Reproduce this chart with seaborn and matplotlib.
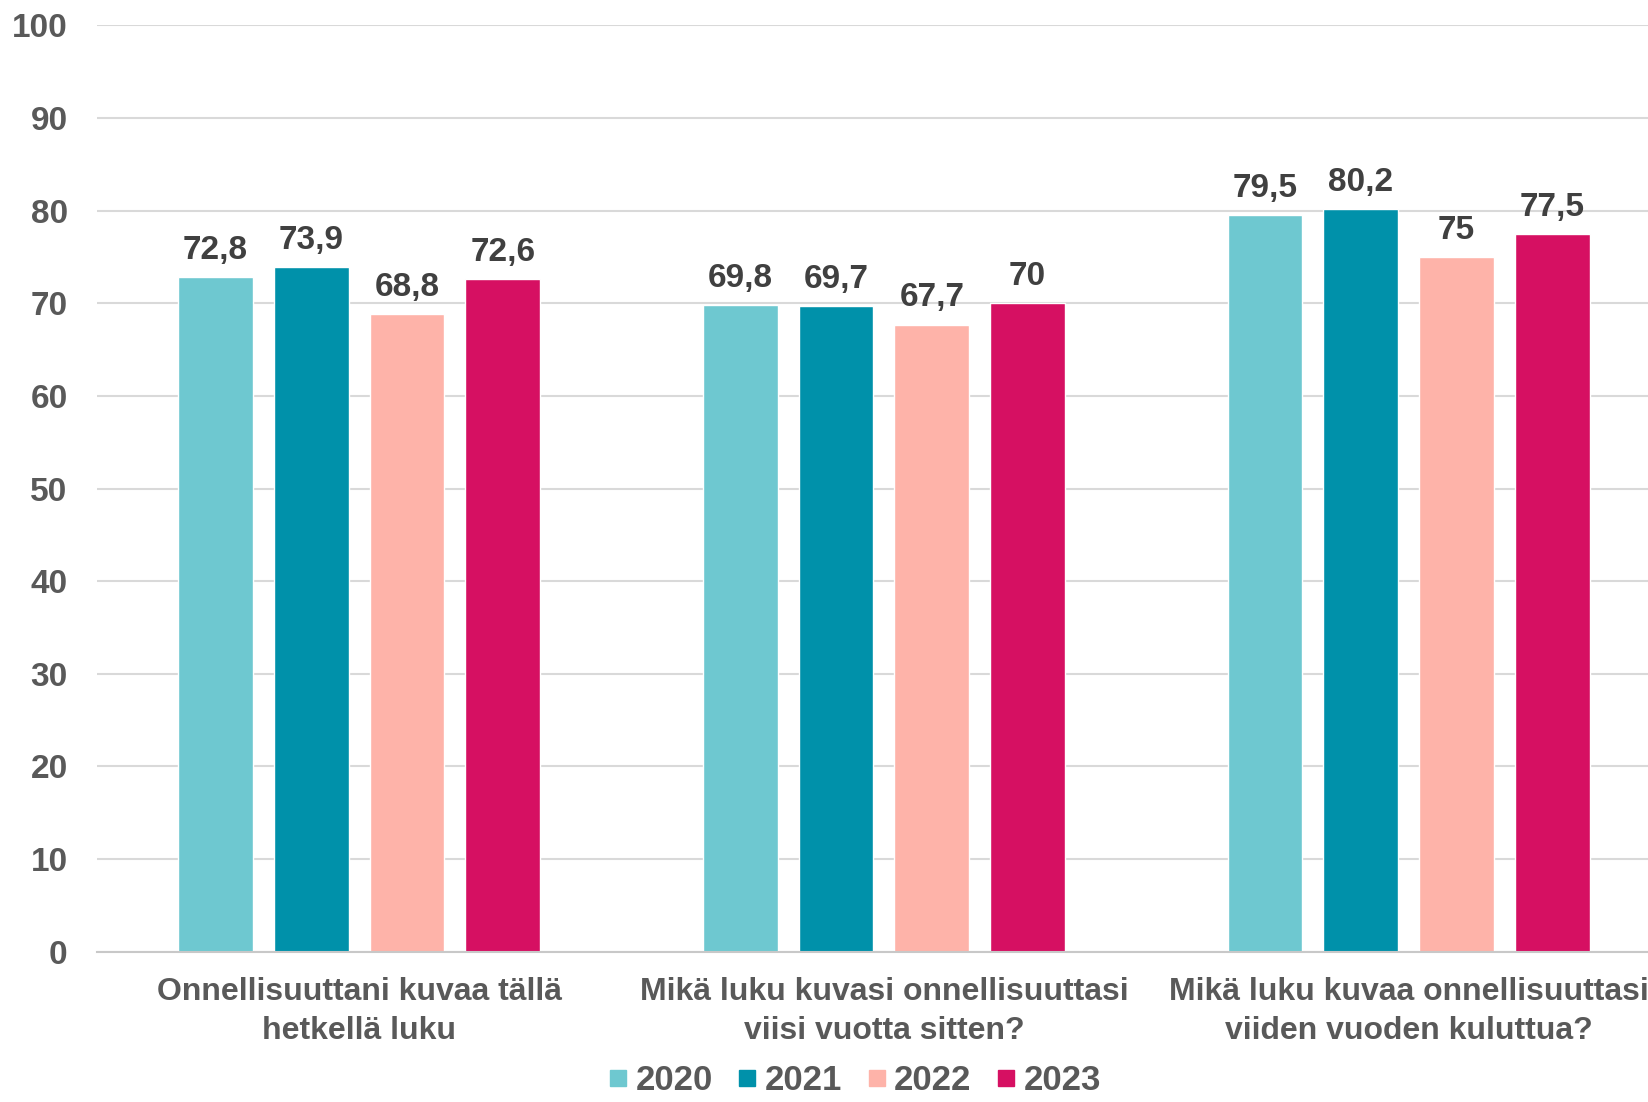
import numpy as np
import pandas as pd
import matplotlib
matplotlib.use("Agg")
import matplotlib.pyplot as plt
from matplotlib.lines import Line2D
import seaborn as sns

# Data
questions = [
    "Onnellisuuttani kuvaa tällä\nhetkellä luku",
    "Mikä luku kuvasi onnellisuuttasi\nviisi vuotta sitten?",
    "Mikä luku kuvaa onnellisuuttasi\nviiden vuoden kuluttua?",
]
years = ["2020", "2021", "2022", "2023"]
v2020 = [72.8, 69.8, 79.5]
v2021 = [73.9, 69.7, 80.2]
v2022 = [68.8, 67.7, 75.0]
v2023 = [72.6, 70.0, 77.5]
colors = ["#6EC8D0", "#0091AA", "#FEB3A9", "#D61062"]

df = pd.DataFrame({
    "Question": questions * 4,
    "Year": [y for y in years for _ in questions],
    "Value": v2020 + v2021 + v2022 + v2023,
})

sns.set_theme(style="white")
plt.rcParams["font.family"] = ["Liberation Sans", "DejaVu Sans"]
plt.rcParams["font.weight"] = "bold"

fig = plt.figure(figsize=(16.49, 11.02), dpi=100)
ax = fig.add_axes([0.0587, 0.1363, 0.9547, 0.8408])

sns.barplot(data=df, x="Question", y="Value", hue="Year", order=questions,
            hue_order=years, palette=colors, width=0.73, gap=0.22,
            saturation=1, legend=False, errorbar=None, ax=ax)

ax.set_ylim(0, 100)
ax.set_xlim(-0.5, 2.5)
ax.set_yticks(range(0, 101, 10))
ax.yaxis.grid(True, color="#D9D9D9", linewidth=1.5)
ax.set_axisbelow(True)
for s in ["top", "right", "left"]:
    ax.spines[s].set_visible(False)
ax.spines["bottom"].set_color("#C8C8C8")
ax.spines["bottom"].set_linewidth(1.5)
ax.tick_params(axis="both", length=0, colors="#595959")
ax.tick_params(axis="y", labelsize=24, pad=21)
ax.tick_params(axis="x", labelsize=23, pad=18)
for lab in ax.get_xticklabels():
    lab.set_multialignment("center")
    lab.set_linespacing(1.38)
ax.set_xlabel("")
ax.set_ylabel("")

for cont in ax.containers:
    labels = [f"{b.get_height():g}".replace(".", ",") for b in cont]
    ax.bar_label(cont, labels=labels, padding=8, fontsize=24,
                 color="#404040", fontweight="bold")

handles = [Line2D([0], [0], marker="s", linestyle="", markersize=12,
                  markerfacecolor=c, markeredgecolor=c) for c in colors]
fig.legend(handles, years, loc="lower center", bbox_to_anchor=(0.518, -0.024),
           ncol=4, frameon=False, fontsize=25, handlelength=0.6,
           handletextpad=0.2, columnspacing=0.7, labelcolor="#595959")

fig.savefig("out.png", dpi=100)
